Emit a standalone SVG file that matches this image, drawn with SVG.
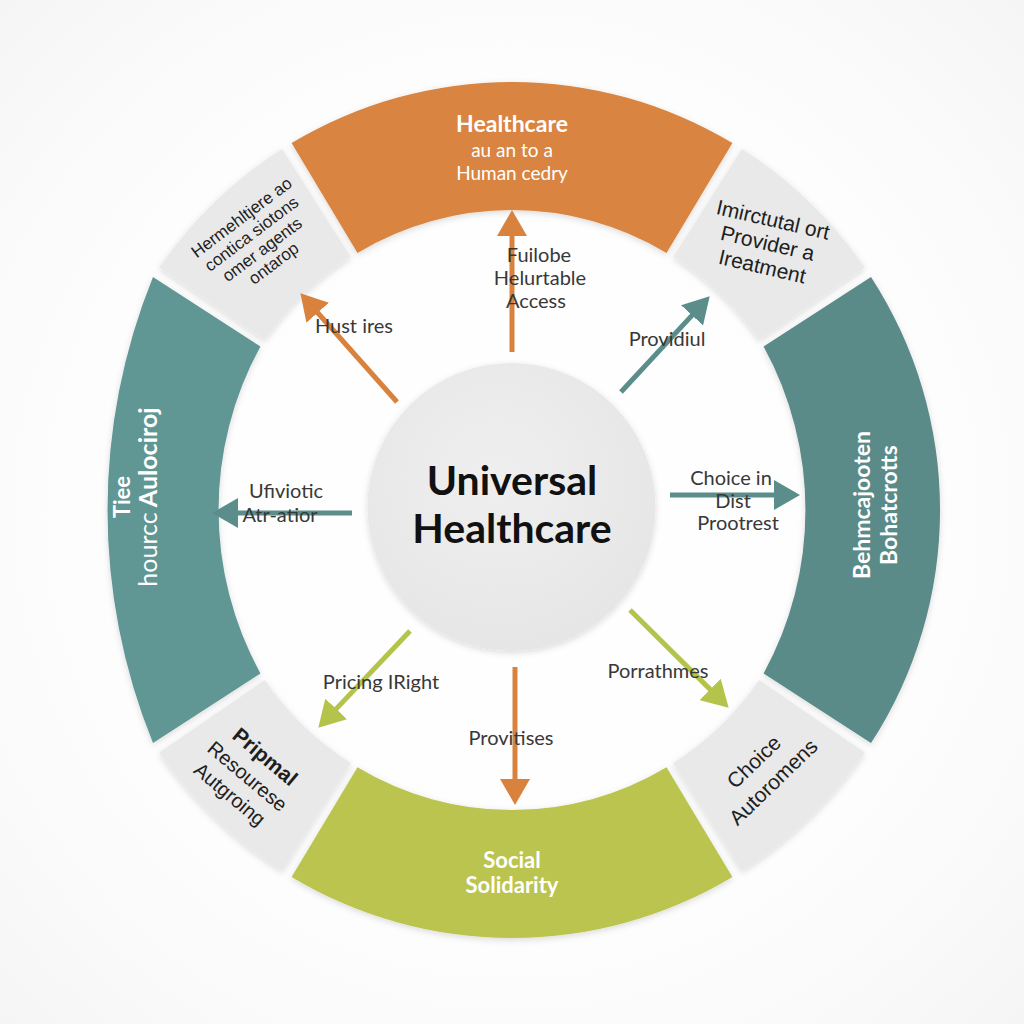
<svg xmlns="http://www.w3.org/2000/svg" width="1024" height="1024" viewBox="0 0 1024 1024">
  <defs>
    <radialGradient id="bg" cx="50%" cy="50%" r="72%">
      <stop offset="0" stop-color="#ffffff"/>
      <stop offset="0.62" stop-color="#fdfdfd"/>
      <stop offset="1" stop-color="#f5f5f5"/>
    </radialGradient>
    <radialGradient id="hub" cx="45%" cy="40%" r="62%">
      <stop offset="0" stop-color="#efefef"/>
      <stop offset="1" stop-color="#e6e6e6"/>
    </radialGradient>
    <filter id="soft" x="-10%" y="-10%" width="120%" height="120%">
      <feDropShadow dx="0" dy="2" stdDeviation="3" flood-color="#000" flood-opacity="0.14"/>
    </filter>
    <marker id="hOrange" markerUnits="userSpaceOnUse" markerWidth="26" markerHeight="30" viewBox="0 0 26 30" refX="1" refY="15" orient="auto">
      <path d="M0,0 L26,15 L0,30 Z" fill="#d9823e"/>
    </marker>
    <marker id="hTeal" markerUnits="userSpaceOnUse" markerWidth="26" markerHeight="30" viewBox="0 0 26 30" refX="1" refY="15" orient="auto">
      <path d="M0,0 L26,15 L0,30 Z" fill="#5b8e8b"/>
    </marker>
    <marker id="hGreen" markerUnits="userSpaceOnUse" markerWidth="26" markerHeight="30" viewBox="0 0 26 30" refX="1" refY="15" orient="auto">
      <path d="M0,0 L26,15 L0,30 Z" fill="#b4c44a"/>
    </marker>
    <style>
      .orange { fill: #d98440; }
      .teal { fill: #609694; }
      .tealR { fill: #5a8b89; }
      .green { fill: #bbc450; }
      .grey { fill: #e9e9e9; }
      .seg { filter: url(#soft); }
      .title { font-family: Lato, "Open Sans", sans-serif; font-weight: 700; fill: #ffffff; text-anchor: middle; }
      .sub { font-family: Lato, "Open Sans", sans-serif; font-weight: 400; fill: #ffffff; text-anchor: middle; }
      .box { font-family: "Liberation Sans", Arial, sans-serif; fill: #1e1e1e; text-anchor: middle; }
      .lbl { font-family: Lato, "Open Sans", sans-serif; font-size: 20px; fill: #383838; text-anchor: middle; }
      .hub { font-family: Lato, "Open Sans", sans-serif; font-weight: 700; font-size: 41px; fill: #111111; text-anchor: middle; }
      .aO { stroke: #d9823e; stroke-width: 5; fill: none; marker-end: url(#hOrange); }
      .aT { stroke: #5b8e8b; stroke-width: 5; fill: none; marker-end: url(#hTeal); }
      .aG { stroke: #b4c44a; stroke-width: 5; fill: none; marker-end: url(#hGreen); }
    </style>
  </defs>

  <rect width="1024" height="1024" fill="url(#bg)"/>

  <!-- top: orange -->
  <g id="seg-top">
    <path class="orange seg" d="M291.6,143.1 A428,428 0 0 1 732.4,143.1 L666.5,252.9 A300,300 0 0 0 357.5,252.9 Z"/>
    <text class="title" x="512" y="132" font-size="23">Healthcare</text>
    <text class="sub" x="512" y="157" font-size="19">au an to a</text>
    <text class="sub" x="512" y="180" font-size="19">Human cedry</text>
  </g>

  <!-- top-right: grey -->
  <g id="seg-top-right">
    <path class="grey seg" d="M742,149 A428,428 0 0 1 864.7,267.6 L759.2,340.1 A300,300 0 0 0 673.2,257 Z"/>
    <g transform="translate(773,220) rotate(13)">
      <text class="box" x="0" y="7" font-size="21">Imirctutal ort</text>
      <text class="box" x="0" y="31" font-size="21">Provider a</text>
      <text class="box" x="0" y="55" font-size="21">Ireatment</text>
    </g>
  </g>

  <!-- right: teal -->
  <g id="seg-right">
    <path class="tealR seg" d="M871,276.9 A428,428 0 0 1 871,743.1 L763.6,673.4 A340,340 0 0 0 763.6,346.6 Z"/>
    <g transform="translate(875,505) rotate(-90)">
      <text class="title" x="0" y="-5" font-size="23">Behmcajooten</text>
      <text class="title" x="0" y="22" font-size="23">Bohatcrotts</text>
    </g>
  </g>

  <!-- bottom-right: grey -->
  <g id="seg-bottom-right">
    <path class="grey seg" d="M864.7,752.4 A428,428 0 0 1 742,871 L673.2,763 A300,300 0 0 0 759.2,679.9 Z"/>
    <g transform="translate(754,762) rotate(-44)">
      <text class="box" x="0" y="7" font-size="21">Choice</text>
      <text class="box" x="0" y="35" font-size="21">Autoromens</text>
    </g>
  </g>

  <!-- bottom: green -->
  <g id="seg-bottom">
    <path class="green seg" d="M732.4,876.9 A428,428 0 0 1 291.6,876.9 L357.5,767.2 A300,300 0 0 0 666.5,767.2 Z"/>
    <text class="title" x="512" y="868" font-size="22">Social</text>
    <text class="title" x="512" y="893" font-size="22">Solidarity</text>
  </g>

  <!-- bottom-left: grey -->
  <g id="seg-bottom-left">
    <path class="grey seg" d="M282,871 A428,428 0 0 1 159.3,752.4 L264.8,679.9 A300,300 0 0 0 350.8,763 Z"/>
    <g transform="translate(265,757) rotate(40)">
      <text class="box" x="0" y="7" font-size="21" font-weight="700">Pripmal</text>
      <text class="box" x="-1" y="33" font-size="20">Resourese</text>
      <text class="box" x="-3" y="58" font-size="20">Autgroing</text>
    </g>
  </g>

  <!-- left: teal -->
  <g id="seg-left">
    <path class="teal seg" d="M153,743.1 A620,620 0 0 1 153,276.9 L260.4,346.6 A340,340 0 0 0 260.4,673.4 Z"/>
    <g transform="translate(145,497) rotate(-90)">
      <text class="title" x="0" y="-15" font-size="22">Tiee</text>
      <text class="title" x="0" y="12" font-size="25"><tspan font-weight="400">hourcc</tspan> Aulociroj</text>
    </g>
  </g>

  <!-- top-left: grey -->
  <g id="seg-top-left">
    <path class="grey seg" d="M159.3,267.6 A428,428 0 0 1 282,149 L350.8,257 A300,300 0 0 0 264.8,340.1 Z"/>
    <g transform="translate(242,218) rotate(-37)">
      <text class="box" x="0" y="5" font-size="17">Hermehltjere ao</text>
      <text class="box" x="-2" y="24" font-size="17">contica siotons</text>
      <text class="box" x="-3" y="43" font-size="17">omer agents</text>
      <text class="box" x="-2" y="61" font-size="17">ontarop</text>
    </g>
  </g>

  <!-- centre -->
  <g id="hub">
    <circle cx="511.5" cy="507" r="144" fill="url(#hub)" filter="url(#soft)"/>
    <text class="hub" x="512" y="495">Universal</text>
    <text class="hub" x="512" y="543">Healthcare</text>
  </g>

  <!-- connectors -->
  <g id="connectors">
    <line class="aO" x1="512" y1="352" x2="512" y2="235"/>
    <line class="aO" x1="397" y1="402" x2="317" y2="312"/>
    <line class="aT" x1="621" y1="392" x2="692.7" y2="314.6"/>
    <line class="aT" x1="352" y1="513" x2="237" y2="513"/>
    <line class="aT" x1="670" y1="495" x2="775" y2="495"/>
    <line class="aG" x1="410" y1="631" x2="335.5" y2="709.6"/>
    <line class="aO" x1="515" y1="667" x2="515" y2="780"/>
    <line class="aG" x1="630" y1="610" x2="710.9" y2="690.1"/>

    <text class="lbl" x="539" y="262">Fuilobe</text>
    <text class="lbl" x="540" y="285">Helurtable</text>
    <text class="lbl" x="536" y="308">Access</text>
    <text class="lbl" x="354" y="333">Hust ires</text>
    <text class="lbl" x="667" y="346">Providiul</text>
    <text class="lbl" x="286" y="498">Ufiviotic</text>
    <text class="lbl" x="280" y="522">Atr-atior</text>
    <text class="lbl" x="731" y="485">Choice in</text>
    <text class="lbl" x="733" y="508">Dist</text>
    <text class="lbl" x="738" y="530">Prootrest</text>
    <text class="lbl" x="381" y="689">Pricing IRight</text>
    <text class="lbl" x="511" y="745">Provitises</text>
    <text class="lbl" x="658" y="678">Porrathmes</text>
  </g>
</svg>
